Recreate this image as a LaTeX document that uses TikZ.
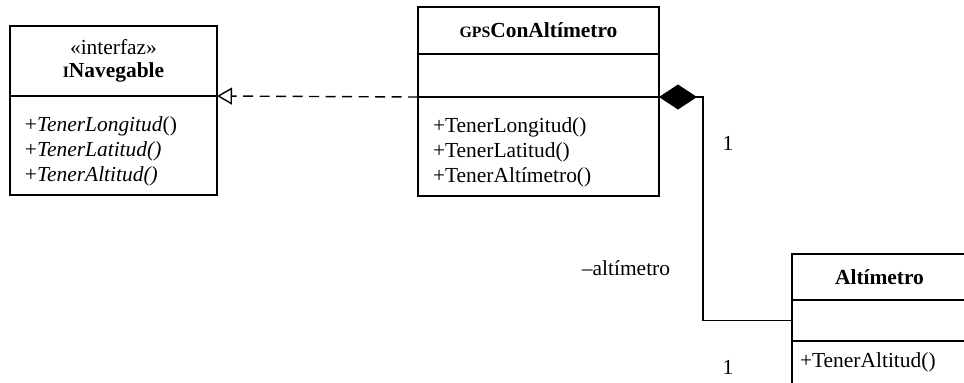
\documentclass[tikz,border=0pt]{standalone}
\usepackage{fontspec}
\setmainfont{Liberation Serif}
\usetikzlibrary{arrows.meta,positioning}
\newcommand{\smcap}[1]{{\fontsize{9}{10}\selectfont #1}}
\newcommand{\topstrut}{\rule{0pt}{15pt}}

\begin{document}
\begin{tikzpicture}[
    font=\fontsize{12.2}{14}\selectfont,
    part/.style={draw, line width=0.8pt, outer sep=0pt, inner ysep=0pt, align=center},
    opspart/.style={part, align=left, inner xsep=0.3cm},
    label/.style={inner sep=0pt}
  ]
  \clip (0,0) rectangle (19.28,-7.64);
  \fill[white] (0,0) rectangle (19.28,-7.64);

  % interface
  \node[part, anchor=north west, text width=3.54cm, inner xsep=0.3cm, minimum height=1.4cm] (inav-name) at (0.2,-0.52) {«interfaz»\\[-1pt]\textbf{\smcap{I}Navegable}};
  \node[opspart, text width=3.54cm, minimum height=1.98cm, below=0pt of inav-name] (inav-ops) {\topstrut+\textit{TenerLongitud}()\\+\textit{TenerLatitud()}\\+\textit{TenerAltitud()}};

  % gps class
  \node[part, anchor=north west, text width=4.22cm, inner xsep=0.3cm, minimum height=0.94cm] (gps-name) at (8.36,-0.14) {\textbf{\smcap{GPS}ConAltímetro}};
  \node[part, text width=4.22cm, inner xsep=0.3cm, minimum height=0.86cm, below=0pt of gps-name] (gps-attr) {};
  \node[opspart, text width=4.22cm, minimum height=1.98cm, below=0pt of gps-attr] (gps-ops) {\topstrut+TenerLongitud()\\+TenerLatitud()\\+TenerAltímetro()};

  % altimeter class
  \node[part, anchor=north west, text width=3.18cm, inner xsep=0.16cm, minimum height=0.92cm] (alt-name) at (15.84,-5.08) {\textbf{Altímetro}};
  \node[part, text width=3.18cm, inner xsep=0.16cm, minimum height=0.82cm, below=0pt of alt-name] (alt-attr) {};
  \node[opspart, text width=3.18cm, inner xsep=0.16cm, minimum height=0.86cm, below=0pt of alt-attr] (alt-ops) {+TenerAltitud()};

  % relations
  \draw[line width=0.8pt, dash pattern=on 0.2cm off 0.13cm, -{Triangle[open,length=0.3cm,width=0.34cm]}] (gps-ops.north west) -- (inav-ops.north east);
  \draw[line width=0.8pt, {Diamond[length=0.76cm,width=0.5cm]}-] (gps-ops.north east) -- ++(0.88,0) |- (alt-attr.west);

  \node[label] (mult-gps) at (14.56,-2.86) {1};
  \node[label] (role-alt) at (12.52,-5.36) {–altímetro};
  \node[label] (mult-alt) at (14.56,-7.34) {1};
\end{tikzpicture}
\end{document}
